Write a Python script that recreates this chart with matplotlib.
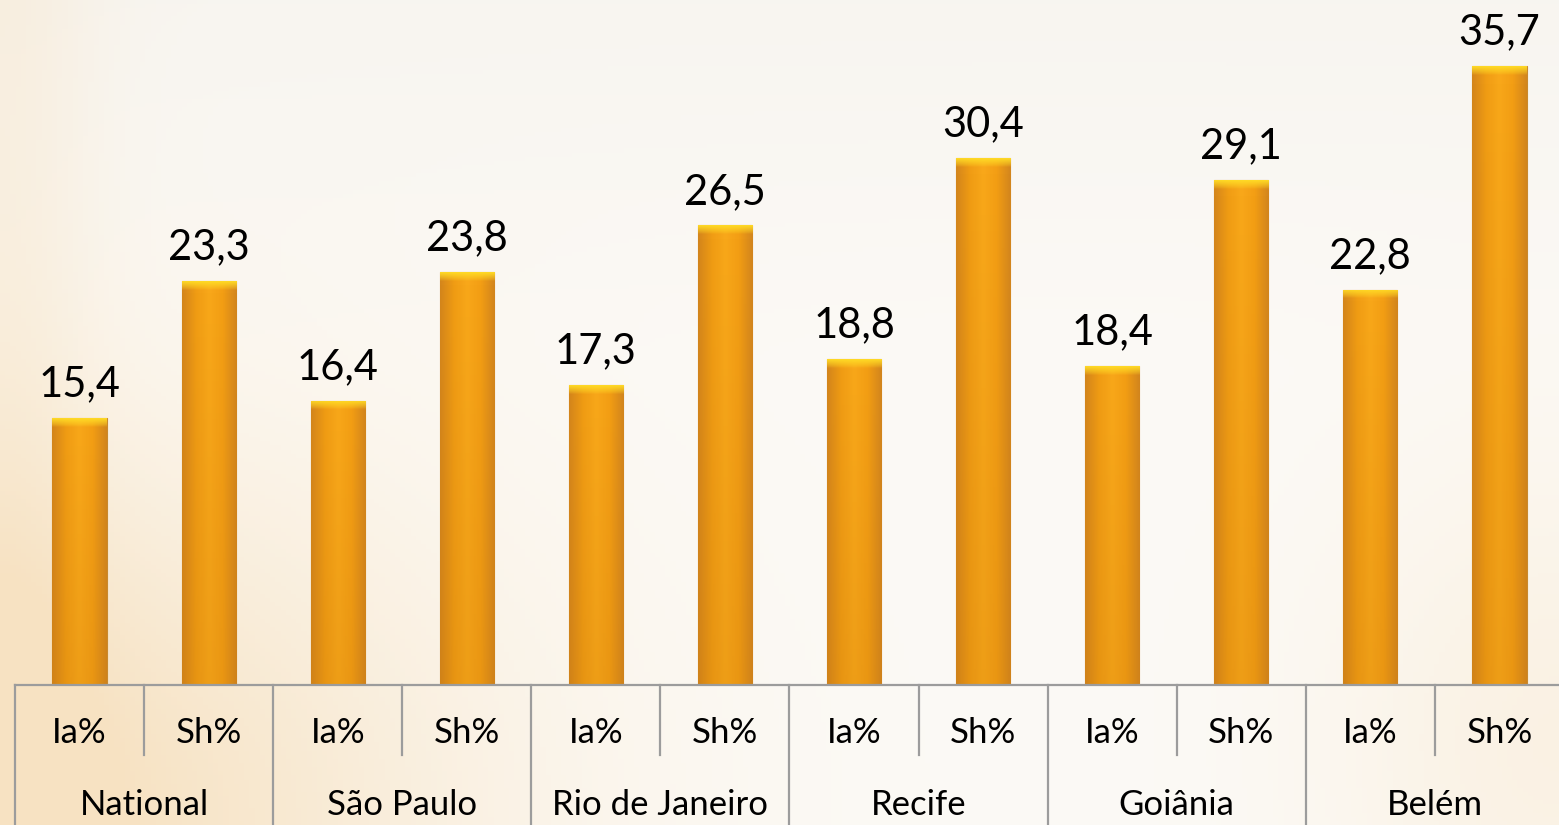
import numpy as np
import matplotlib
matplotlib.use("Agg")
import matplotlib.pyplot as plt
from matplotlib.transforms import blended_transform_factory
from matplotlib.colors import LinearSegmentedColormap

groups = ["National", "São Paulo", "Rio de Janeiro", "Recife", "Goiânia", "Belém"]
subcats = ["Ia%", "Sh%"]
ia_values = [15.4, 16.4, 17.3, 18.8, 18.4, 22.8]
sh_values = [23.3, 23.8, 26.5, 30.4, 29.1, 35.7]

values = []
labels = []
for a, b in zip(ia_values, sh_values):
    values += [a, b]
    labels += subcats

plt.rcParams['font.family'] = ['Lato', 'DejaVu Sans']

W, H = 1559, 825
fig = plt.figure(figsize=(W / 100, H / 100), dpi=100)

# background gradient: near white with warm glow toward bottom-left / edges
bg = fig.add_axes([0, 0, 1, 1], zorder=-10)
yy, xx = np.mgrid[0:1:200j, 0:1:300j]   # yy=0 top, 1 bottom
base = np.array([252, 250, 246]) / 255
warm = np.array([247, 226, 194]) / 255
top_tint = np.array([247, 244, 239]) / 255
g1 = np.exp(-(((xx - 0.0) / 0.30) ** 2 + ((yy - 1.0) / 0.45) ** 2))
g2 = np.exp(-(((xx - 1.0) / 0.15) ** 2 + ((yy - 0.9) / 0.35) ** 2)) * 0.35
g3 = np.exp(-((xx - 0.0) / 0.06) ** 2) * 0.35
g = np.clip(g1 + g2 + g3, 0, 1)
t = np.clip(1 - yy / 0.45, 0, 1) * 0.8
img = base[None, None, :] * (1 - t[..., None]) + top_tint[None, None, :] * t[..., None]
img = img * (1 - g[..., None]) + warm[None, None, :] * g[..., None]
bg.imshow(img, extent=[0, 1, 0, 1], aspect='auto', origin='upper')
bg.axis('off')

# axes placement (pixels)
left_px, right_px = 15, 1564
base_px, top_px = 685, 26
ymax = (base_px - top_px) / 17.34
ax = fig.add_axes([left_px / W, (H - base_px) / H, (right_px - left_px) / W, (base_px - top_px) / H])
ax.patch.set_alpha(0)
n = len(values)
x = np.arange(n)
ax.set_xlim(-0.5, n - 0.5)
ax.set_ylim(0, ymax)

width = 0.42
bars = ax.bar(x, values, width=width, color='#F29E14', edgecolor='#C8892E', linewidth=0.8, zorder=2)

cmap = LinearSegmentedColormap.from_list('bar', ['#D4861C', '#F09C14', '#F9A81A', '#F39E14', '#D3861E'])
grad = np.linspace(0, 1, 64)[None, :]
vg = np.linspace(0, 1, 64)
cap_rgba = np.zeros((64, 1, 4))
cap_rgba[:, 0, 0] = 1.0
cap_rgba[:, 0, 1] = 0.86
cap_rgba[:, 0, 2] = 0.15
cap_rgba[:, 0, 3] = np.clip(vg ** 0.8 * 1.0, 0, 1)  # origin lower: top most opaque
shade = np.zeros((64, 1, 4))
shade[:, 0, 0] = 0.75
shade[:, 0, 1] = 0.45
shade[:, 0, 2] = 0.05
shade[:, 0, 3] = (1 - vg) * 0.18
for b in bars:
    bx, bw, bh = b.get_x(), b.get_width(), b.get_height()
    im = ax.imshow(grad, cmap=cmap, extent=[bx, bx + bw, 0, bh], aspect='auto', zorder=2.5, origin='lower')
    im.set_clip_path(b)
    im3 = ax.imshow(shade, extent=[bx, bx + bw, 0, bh], aspect='auto', zorder=2.7, origin='lower')
    im3.set_clip_path(b)
    # bevelled top cap
    cap_h = 0.5
    im2 = ax.imshow(cap_rgba, extent=[bx, bx + bw, bh - cap_h, bh], aspect='auto', zorder=3, origin='lower')
    im2.set_clip_path(b)
    ax.text(bx + bw / 2, bh + 0.85, f"{bh:.1f}".replace('.', ','), ha='center', va='bottom',
            fontsize=30, color='black', zorder=4)

for s in ax.spines.values():
    s.set_visible(False)
ax.set_xticks([])
ax.set_yticks([])

ax_h_px = base_px - top_px
def ay(px_below):
    return -px_below / ax_h_px

tr = blended_transform_factory(ax.transData, ax.transAxes)
line_kw = dict(color='#9C9C9C', linewidth=1.6, transform=tr, clip_on=False, zorder=5)
ax.plot([-0.5, n - 0.5], [0, 0], **line_kw)
# group dividers
for g_i in range(len(groups) + 1):
    xb = -0.5 + 2 * g_i
    ax.plot([xb, xb], [0, ay(150)], **line_kw)
# subcategory dividers
for g_i in range(len(groups)):
    xb = 0.5 + 2 * g_i
    ax.plot([xb, xb], [0, ay(70)], **line_kw)

for i, lab in enumerate(labels):
    ax.text(i, ay(48), lab, ha='center', va='center', fontsize=25, transform=tr, clip_on=False)
for g_i, name in enumerate(groups):
    ax.text(2 * g_i + 0.5, ay(120), name, ha='center', va='center', fontsize=25, transform=tr, clip_on=False)

fig.savefig('out.png', dpi=100)
